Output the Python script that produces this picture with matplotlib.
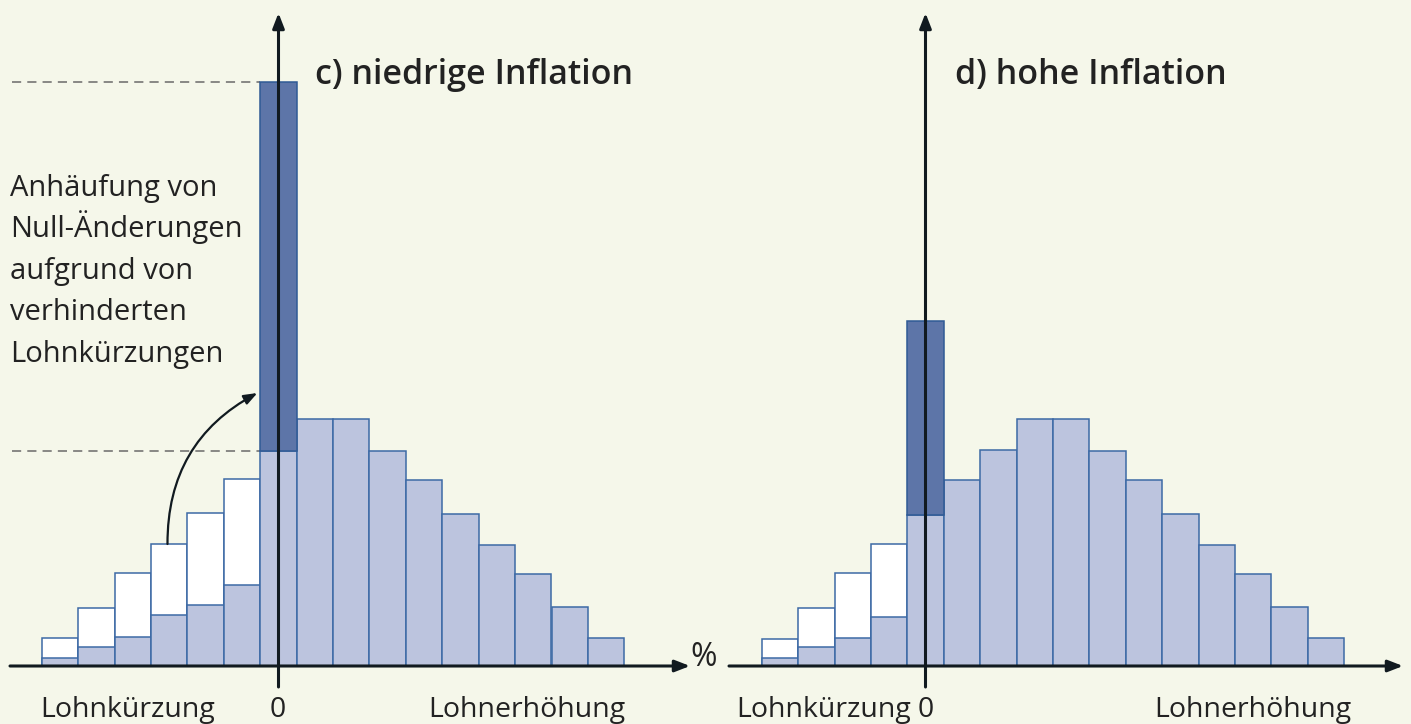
import numpy as np
import matplotlib
matplotlib.use('Agg')
from matplotlib import pyplot as plt

plt.rcParams['font.family'] = ['Open Sans', 'DejaVu Sans']

# data (bar heights in arbitrary units, bins are percent changes)
bins_c = np.arange(-6, 10)
light_c = [0.8, 1.9, 2.9, 5.1, 6.1, 8.1, 21.5, 24.7, 24.7, 21.5, 18.6, 15.2, 12.1, 9.2, 5.9, 2.8]
white_c = [2.8, 5.8, 9.3, 12.2, 15.3, 18.7]      # bins -6..-1, without rigidity
spike_c = 58.4                                  # bin 0 incl. piled-up zeros

bins_d = np.arange(-4, 12)
light_d = [0.8, 1.9, 2.8, 4.9, 15.1, 18.6, 21.6, 24.7, 24.7, 21.5, 18.6, 15.2, 12.1, 9.2, 5.9, 2.8]
white_d = [2.7, 5.8, 9.3, 12.2]                 # bins -4..-1
spike_d = 34.5

note_lines = ['Anhäufung von', 'Null-Änderungen', 'aufgrund von',
              'verhinderten', 'Lohnkürzungen']

BG = '#f5f7ea'
LIGHT = '#bcc4de'
DARK = '#5d75a8'
EDGE = '#3d6aa5'
INK = '#111a20'

W, H = 1411, 724
BIN_PX, UNIT_PX, BASE_Y = 36.4, 10.0, 666

fig = plt.figure(figsize=(W / 100, H / 100), dpi=100)
fig.patch.set_facecolor(BG)


def panel(x0, x1, zero):
    ax = fig.add_axes([x0 / W, 0, (x1 - x0) / W, 1])
    ax.set_xlim((x0 - zero) / BIN_PX, (x1 - zero) / BIN_PX)
    ax.set_ylim(-(H - BASE_Y) / UNIT_PX, BASE_Y / UNIT_PX)
    ax.axis('off')
    ax.patch.set_alpha(0)
    return ax


def draw(ax, bins, light, white, spike, xl, xr, zero):
    neg = bins[:len(white)]
    ax.bar(neg, white, width=1, color='white', edgecolor=EDGE, linewidth=1.1, zorder=2)
    ax.bar(bins, light, width=1, color=LIGHT, edgecolor=EDGE, linewidth=1.1, zorder=3)
    i0 = list(bins).index(0)
    ax.bar(0, spike - light[i0], bottom=light[i0], width=1, color=DARK,
           edgecolor='#2f5a95', linewidth=1.1, zorder=3)
    arrow = dict(arrowstyle='-|>,head_length=0.9,head_width=0.35', color=INK,
                 lw=2.2, shrinkA=0, shrinkB=0)
    ax.annotate('', xy=((xr - zero) / BIN_PX, 0), xytext=((xl - zero) / BIN_PX, 0),
                arrowprops=arrow, zorder=5)
    ax.annotate('', xy=(0, (BASE_Y - 13) / UNIT_PX), xytext=(0, -2.1),
                arrowprops=arrow, zorder=5)


ax_c = panel(0, 705, 278.5)
draw(ax_c, bins_c, light_c, white_c, spike_c, 10, 690, 278.5)
ax_d = panel(705, W, 925.5)
draw(ax_d, bins_d, light_d, white_d, spike_d, 729, 1403, 925.5)

# dashed guide lines in panel c
x_left = (12 - 278.5) / BIN_PX
for yv in (spike_c, light_c[list(bins_c).index(0)]):
    ax_c.plot([x_left, -0.5], [yv, yv], color='#6a6a6a', lw=1.1,
              dashes=(6, 4), zorder=1)

# curved arrow from the cut bars to the spike
ax_c.annotate('', xy=(-0.58, 27.3), xytext=(-3.05, white_c[3]),
              arrowprops=dict(arrowstyle='-|>,head_length=0.8,head_width=0.3',
                              color=INK, lw=1.6, shrinkA=0, shrinkB=0,
                              connectionstyle='arc3,rad=-0.3'), zorder=6)


def ftext(x, y, s, **kw):
    fig.text(x / W, 1 - y / H, s, color='#222222', **kw)


ftext(315, 84, 'c) niedrige Inflation', fontsize=24.5, fontweight='semibold', va='baseline')
ftext(955, 84, 'd) hohe Inflation', fontsize=24.5, fontweight='semibold', va='baseline')
for k, line in enumerate(note_lines):
    ftext(10, 196 + 41.5 * k, line, fontsize=21, va='baseline', ha='left')
ftext(690, 666, '%', fontsize=23, va='baseline', ha='left')

ftext(128, 717, 'Lohnkürzung', fontsize=20.5, ha='center', va='baseline')
ftext(278, 717, '0', fontsize=20.5, ha='center', va='baseline')
ftext(527, 717, 'Lohnerhöhung', fontsize=20.5, ha='center', va='baseline')
ftext(736, 717, 'Lohnkürzung', fontsize=20.5, ha='left', va='baseline')
ftext(926, 717, '0', fontsize=20.5, ha='center', va='baseline')
ftext(1253, 717, 'Lohnerhöhung', fontsize=20.5, ha='center', va='baseline')

fig.savefig('out.png', dpi=100, facecolor=BG)
